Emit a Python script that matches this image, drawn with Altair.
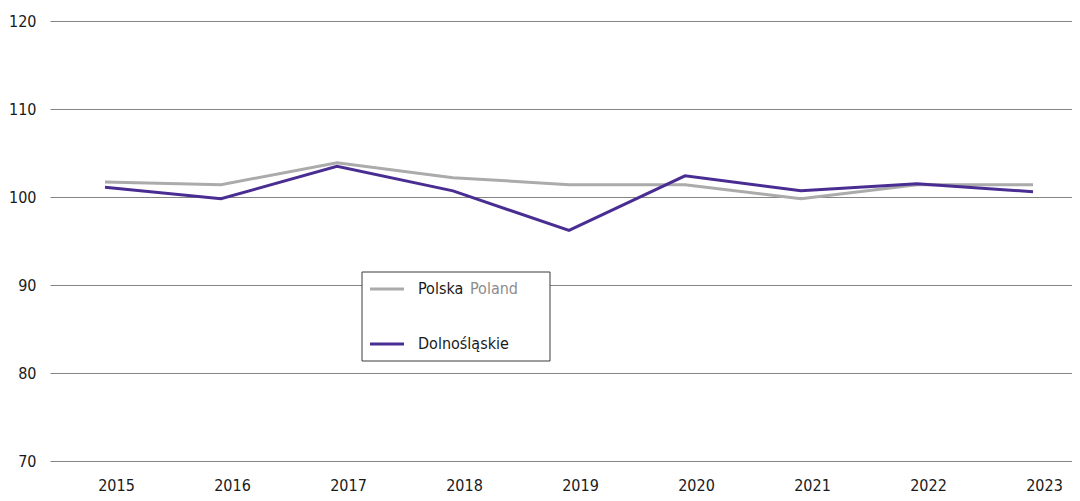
import altair as alt
import pandas as pd

years = [2015, 2016, 2017, 2018, 2019, 2020, 2021, 2022, 2023]
polska = [101.7, 101.4, 103.9, 102.2, 101.4, 101.4, 99.8, 101.4, 101.4]
dolnoslaskie = [101.1, 99.8, 103.5, 100.7, 96.2, 102.4, 100.7, 101.5, 100.6]
y_ticks = [70, 80, 90, 100, 110, 120]

series_names = ["Polska", "Dolnośląskie"]
series_colors = ["#ababab", "#4a2d92"]

FONT = "DejaVu Sans Condensed, Liberation Sans, sans-serif"
FS = 16

df = pd.DataFrame({
    "year": years * 2,
    "value": polska + dolnoslaskie,
    "series": [series_names[0]] * len(years) + [series_names[1]] * len(years),
})

x = alt.X(
    "year:Q",
    scale=alt.Scale(domain=[2014.526, 2023.336], nice=False, zero=False),
    axis=alt.Axis(
        values=years, format="d", title=None, grid=False, domain=False, ticks=False,
        labelFont=FONT, labelFontSize=FS, labelColor="#1a1a1a", labelPadding=16,
        labelOffset=11, labelFlush=False,
    ),
)
y = alt.Y(
    "value:Q",
    scale=alt.Scale(domain=[70, 120], nice=False, zero=False),
    axis=alt.Axis(
        values=y_ticks, title=None, grid=True, gridColor="#858585", gridWidth=1,
        domain=False, ticks=False, labelFont=FONT, labelFontSize=FS,
        labelColor="#1a1a1a", labelPadding=14,
    ),
)

lines = alt.Chart(df).mark_line(strokeWidth=3).encode(
    x=x,
    y=y,
    color=alt.Color("series:N", scale=alt.Scale(domain=series_names, range=series_colors), legend=None),
    order=alt.Order("year:Q"),
    detail="series:N",
)

# legend box
box_df = pd.DataFrame({"k": [0]})
box = alt.Chart(box_df).mark_rect(fill="white", stroke="#3a3a3a", strokeWidth=1).encode(
    x=alt.value(312), x2=alt.value(500), y=alt.value(251), y2=alt.value(340)
)
sw1 = alt.Chart(box_df).mark_rule(color=series_colors[0], strokeWidth=3).encode(
    x=alt.value(320), x2=alt.value(354), y=alt.value(268)
)
sw2 = alt.Chart(box_df).mark_rule(color=series_colors[1], strokeWidth=3).encode(
    x=alt.value(320), x2=alt.value(354), y=alt.value(323)
)
t1 = alt.Chart(box_df).mark_text(text=series_names[0], align="left", baseline="middle",
                                 font=FONT, fontSize=FS, color="#1a1a1a").encode(
    x=alt.value(368), y=alt.value(268)
)
t1b = alt.Chart(box_df).mark_text(text="Poland", align="left", baseline="middle",
                                  font=FONT, fontSize=FS, color="#8c8c8c").encode(
    x=alt.value(420), y=alt.value(268)
)
t2 = alt.Chart(box_df).mark_text(text=series_names[1], align="left", baseline="middle",
                                 font=FONT, fontSize=FS, color="#1a1a1a").encode(
    x=alt.value(368), y=alt.value(323)
)

chart = alt.layer(lines, box, sw1, sw2, t1, t1b, t2).properties(
    width=1022, height=440,
    autosize="none",
    padding={"left": 42, "top": 13, "right": 0, "bottom": 32},
).configure(background="white").configure_view(stroke=None)

chart.save("out.html", embed_options={"renderer": "svg", "actions": False})
